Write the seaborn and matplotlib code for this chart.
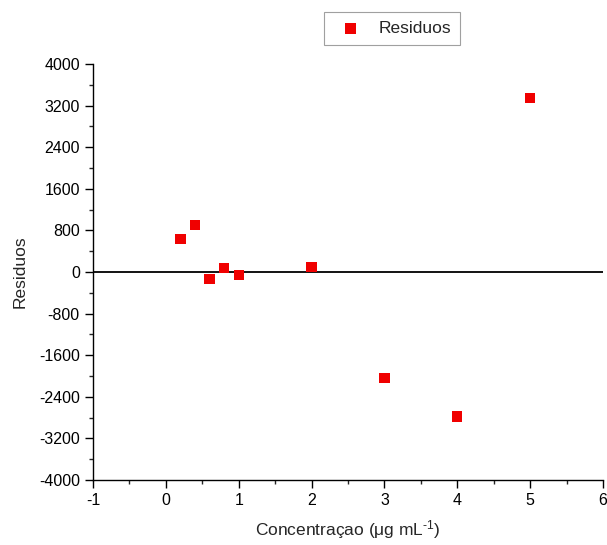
import matplotlib
matplotlib.use("Agg")
import matplotlib.pyplot as plt
import seaborn as sns
import pandas as pd
from matplotlib.ticker import MultipleLocator

conc = [0.2, 0.4, 0.6, 0.8, 1.0, 2.0, 3.0, 4.0, 5.0]
residuos = [635, 904, -135, 77, -58, 90, -2038, -2780, 3346]
xticks = [-1, 0, 1, 2, 3, 4, 5, 6]
yticks = [-4000, -3200, -2400, -1600, -800, 0, 800, 1600, 2400, 3200, 4000]

df = pd.DataFrame({"x": conc, "y": residuos})

sns.set_style("ticks")
plt.rcParams['font.family'] = ['Liberation Sans', 'DejaVu Sans']
plt.rcParams['mathtext.fontset'] = 'custom'
plt.rcParams['mathtext.rm'] = 'Liberation Sans'
plt.rcParams['mathtext.default'] = 'regular'

fig = plt.figure(figsize=(6.07, 5.45), dpi=100)
ax = fig.add_axes([93/607, 1-480/545, (603-93)/607, (480-64)/545])

sns.scatterplot(data=df, x="x", y="y", ax=ax, marker="s", s=55, color="#f00000",
                edgecolor="none", label="Residuos", zorder=3)
ax.axhline(0, color="black", lw=1.3, zorder=2)

ax.set_xlim(-1, 6)
ax.set_ylim(-4000, 4000)
ax.set_xticks(xticks)
ax.set_yticks(yticks)
ax.set_xticklabels([str(t) for t in xticks])
ax.set_yticklabels([str(t) for t in yticks])
ax.xaxis.set_minor_locator(MultipleLocator(0.5))
ax.yaxis.set_minor_locator(MultipleLocator(400))
ax.tick_params(which="major", direction="out", length=6, width=1, labelsize=11.5, colors="black")
ax.tick_params(which="minor", direction="out", length=3, width=1)
for s in ["top", "right"]:
    ax.spines[s].set_visible(False)
for s in ["left", "bottom"]:
    ax.spines[s].set_linewidth(1)
    ax.spines[s].set_color("black")

ax.set_xlabel(r"Concentraçao (μg mL$^{\text{-}1}$)", fontsize=12.5, labelpad=7)
ax.set_ylabel("Residuos", fontsize=12.5, labelpad=8)

leg = ax.legend(loc="center", bbox_to_anchor=(392/607, 1-28.5/545),
                bbox_transform=fig.transFigure, fontsize=12.5, frameon=True,
                fancybox=False, borderpad=0.5, handletextpad=0.6, markerscale=1.0)
leg.get_frame().set_edgecolor("#888888")
leg.get_frame().set_linewidth(0.8)

fig.savefig("out.png", dpi=100)
